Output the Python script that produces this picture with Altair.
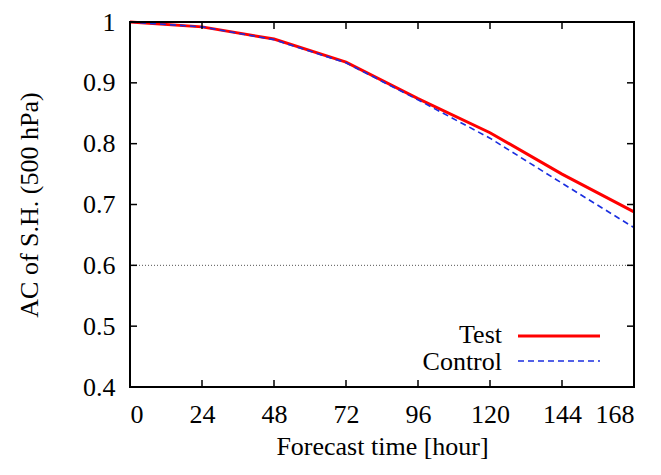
import altair as alt
import pandas as pd

hours = [0, 24, 48, 72, 96, 120, 144, 168]
test_ac = [1.000, 0.992, 0.972, 0.934, 0.874, 0.818, 0.750, 0.688]
control_ac = [1.000, 0.992, 0.971, 0.933, 0.872, 0.809, 0.735, 0.662]
x_ticks = [0, 24, 48, 72, 96, 120, 144, 168]
y_ticks = [0.4, 0.5, 0.6, 0.7, 0.8, 0.9, 1.0]
ref_level = [0.6]

W, H = 504, 365
FONT = "'Liberation Serif', 'Times New Roman', serif"
FS = 26

df_test = pd.DataFrame({"hour": hours, "ac": test_ac})
df_ctrl = pd.DataFrame({"hour": hours, "ac": control_ac})
df_xt = pd.DataFrame({"t": x_ticks})
df_yt = pd.DataFrame({"v": y_ticks})
df_ref = pd.DataFrame({"v": ref_level})

xs = alt.Scale(domain=[0, 168], nice=False, zero=False)
ys = alt.Scale(domain=[0.4, 1.0], nice=False, zero=False)

common = dict(labelFont=FONT, labelFontSize=FS, titleFont=FONT, titleFontSize=FS,
              titleFontWeight="normal", ticks=False, domain=False, grid=False,
              labelColor="black", titleColor="black")
xaxis = alt.Axis(values=x_ticks, title="Forecast time [hour]", labelPadding=14, titlePadding=6, **common)
yaxis = alt.Axis(values=y_ticks, title="AC of S.H. (500 hPa)", labelPadding=15, titlePadding=40,
                 labelExpr="datum.value == 1 ? '1' : format(datum.value, '.1f')", **common)

ref = alt.Chart(df_ref).mark_rule(color="#555555", strokeWidth=1, strokeDash=[1, 2]).encode(
    y=alt.Y("v:Q", scale=ys, axis=yaxis), x=alt.value(0), x2=alt.value(W))

test_line = alt.Chart(df_test).mark_line(color="#ff0000", strokeWidth=3).encode(
    x=alt.X("hour:Q", scale=xs, axis=xaxis), y=alt.Y("ac:Q", scale=ys))
ctrl_line = alt.Chart(df_ctrl).mark_line(color="#1a2ee0", strokeWidth=1.6, strokeDash=[6, 4]).encode(
    x=alt.X("hour:Q", scale=xs), y=alt.Y("ac:Q", scale=ys))

tl = 7
xt_bot = alt.Chart(df_xt).mark_rule(color="black", strokeWidth=1.5).encode(
    x=alt.X("t:Q", scale=xs), y=alt.value(H), y2=alt.value(H - tl))
xt_top = alt.Chart(df_xt).mark_rule(color="black", strokeWidth=1.5).encode(
    x=alt.X("t:Q", scale=xs), y=alt.value(0), y2=alt.value(tl))
yt_l = alt.Chart(df_yt).mark_rule(color="black", strokeWidth=1.5).encode(
    y=alt.Y("v:Q", scale=ys), x=alt.value(0), x2=alt.value(tl))
yt_r = alt.Chart(df_yt).mark_rule(color="black", strokeWidth=1.5).encode(
    y=alt.Y("v:Q", scale=ys), x=alt.value(W), x2=alt.value(W - tl))

frame_df = pd.DataFrame({"k": [0]})
frame = alt.Chart(frame_df).mark_rect(fill="transparent", stroke="black", strokeWidth=2).encode(
    x=alt.value(0), x2=alt.value(W), y=alt.value(0), y2=alt.value(H))

leg_text1 = alt.Chart(pd.DataFrame({"name": ["Test"]})).mark_text(
    font=FONT, fontSize=FS, align="right", baseline="middle", color="black").encode(
    text="name:N", x=alt.value(372), y=alt.value(313))
leg_text2 = alt.Chart(pd.DataFrame({"name": ["Control"]})).mark_text(
    font=FONT, fontSize=FS, align="right", baseline="middle", color="black").encode(
    text="name:N", x=alt.value(372), y=alt.value(340))
leg_l1 = alt.Chart(pd.DataFrame({"name": ["Test"]})).mark_rule(color="#ff0000", strokeWidth=3).encode(
    x=alt.value(388), x2=alt.value(470), y=alt.value(314))
leg_l2 = alt.Chart(pd.DataFrame({"name": ["Control"]})).mark_rule(
    color="#1a2ee0", strokeWidth=1.6, strokeDash=[6, 4]).encode(
    x=alt.value(388), x2=alt.value(470), y=alt.value(339))

chart = alt.layer(ref, test_line, ctrl_line, xt_bot, xt_top, yt_l, yt_r, frame,
                  leg_text1, leg_text2, leg_l1, leg_l2).properties(
    width=W, height=H,
    autosize=alt.AutoSizeParams(type="none"),
    padding={"left": 122, "top": 14, "right": 19, "bottom": 78},
).configure_view(strokeWidth=0)

chart.save("out.html", embed_options={"renderer": "svg", "actions": False})
